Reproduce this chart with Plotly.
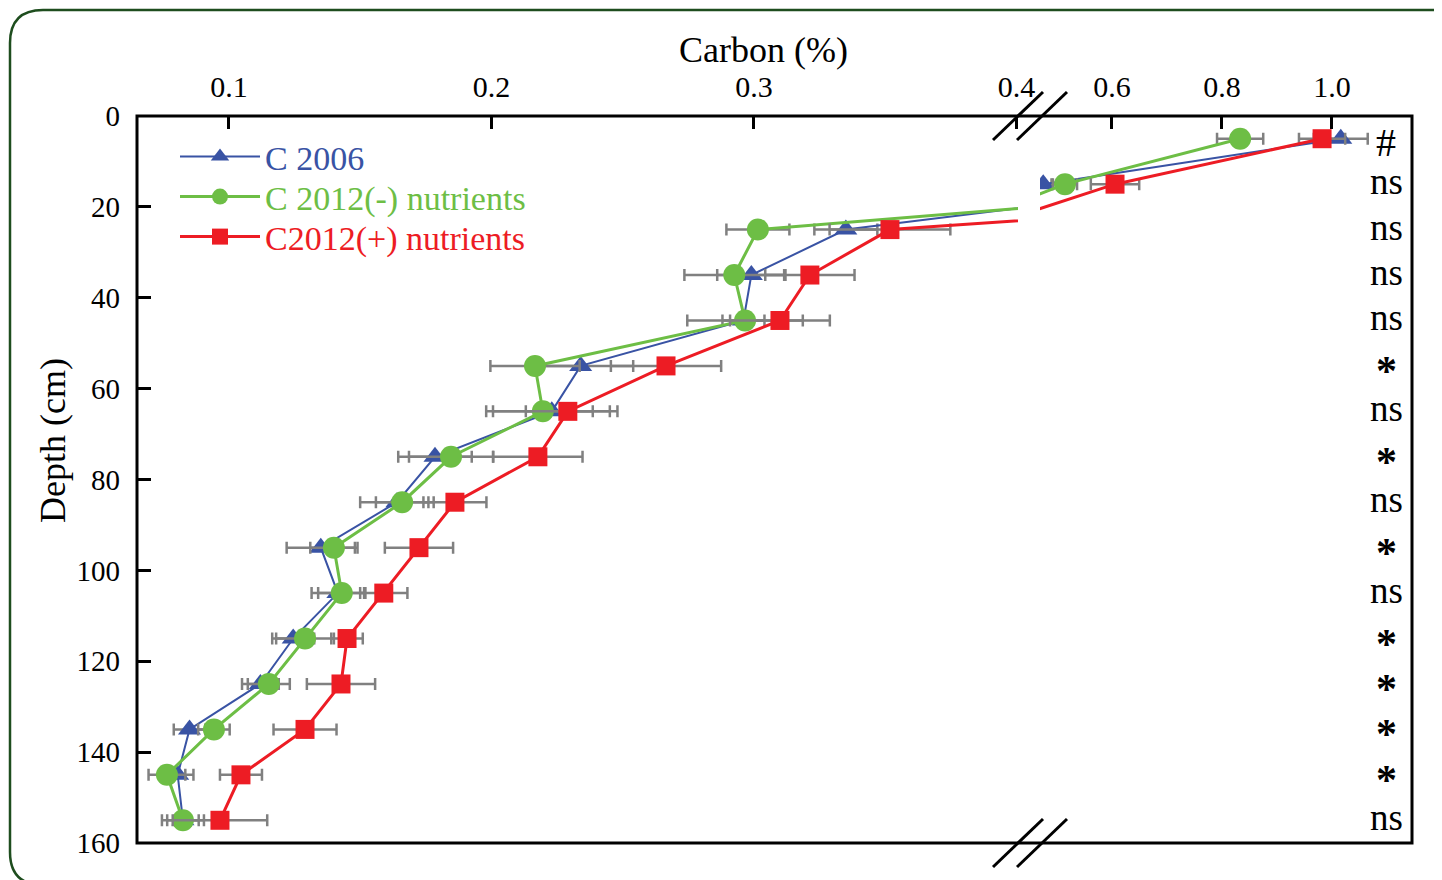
import plotly.graph_objects as go

# ---------------- data ----------------
depth = [5, 15, 25, 35, 45, 55, 65, 75, 85, 95, 105, 115, 125, 135, 145, 155]

c2006 = [1.016, 0.475, 0.335, 0.299, 0.296, 0.234, 0.223, 0.1785, 0.164, 0.135,
         0.1415, 0.1245, 0.112, 0.085, 0.0805, 0.0825]
c2006_err = [0.049, 0.015, 0.012, 0.013, 0.008, 0.020, 0.025, 0.014, 0.014, 0.013,
             0.010, 0.008, 0.007, 0.006, 0.006, 0.008]

c2012_minus = [0.833, 0.5145, 0.3015, 0.2925, 0.2966, 0.2166, 0.2196, 0.1846, 0.166, 0.140,
               0.143, 0.129, 0.1152, 0.0943, 0.0764, 0.0825]
c2012_minus_err = [0.042, 0.022, 0.012, 0.019, 0.022, 0.017, 0.019, 0.016, 0.010, 0.009,
                   0.009, 0.011, 0.008, 0.006, 0.007, 0.006]

c2012_plus = [0.982, 0.6055, 0.3518, 0.3213, 0.3099, 0.2665, 0.2291, 0.2177, 0.1861, 0.1724,
              0.159, 0.145, 0.1427, 0.129, 0.1046, 0.0966]
c2012_plus_err = [0.042, 0.044, 0.023, 0.017, 0.019, 0.021, 0.016, 0.017, 0.012, 0.013,
                  0.009, 0.006, 0.013, 0.012, 0.008, 0.018]

significance = ["#", "ns", "ns", "ns", "ns", "*", "ns", "*", "ns", "*", "ns", "*", "*", "*", "*", "ns"]

left_ticks = [0.1, 0.2, 0.3, 0.4]
right_ticks = [0.6, 0.8, 1.0]
y_ticks = [0, 20, 40, 60, 80, 100, 120, 140, 160]

# ---------------- layout geometry ----------------
# page body has an 8px margin, so the figure is 8px smaller than the window
OFF = 8
W, H = 1442 - OFF, 880 - OFF
X0, X1, Y0, Y1 = 137, 1412, 116, 843          # plot area in window pixels
ML, MT = X0 - OFF, Y0 - OFF
MR, MB = W - (X1 - OFF), H - (Y1 - OFF)
PW, PH = X1 - X0, Y1 - Y0


def px(x):
    return (x - X0) / PW


def py(y):
    return (Y1 - y) / PH


FONT = "Liberation Serif, Times New Roman, serif"
BLUE, GREEN, RED, GRAY = "#3953A4", "#6DBE45", "#ED1C24", "#808080"

series = [
    ("C 2006", c2006, c2006_err, BLUE, "triangle-up", 20, 2, "legend", 157),
    ("C 2012(-) nutrients", c2012_minus, c2012_minus_err, GREEN, "circle", 22, 3, "legend2", 197),
    ("C2012(+) nutrients", c2012_plus, c2012_plus_err, RED, "square", 19, 3, "legend3", 237),
]

fig = go.Figure()
legend_defs = {}
for name, vals, err, col, sym, size, lw, leg, rowy in series:
    for xa, show in (("x", True), ("x2", False)):
        fig.add_trace(go.Scatter(
            x=vals, y=depth, xaxis=xa, yaxis="y",
            mode="lines+markers",
            name=f"<span style='color:{col}'>{name}</span>",
            showlegend=show, legend=leg,
            line=dict(color=col, width=lw),
            marker=dict(symbol=sym, size=size, color=col, line=dict(width=0)),
            error_x=dict(type="data", array=err, visible=True, color=GRAY,
                         thickness=2.5, width=6),
        ))
    legend_defs[leg] = dict(x=px(175), y=py(rowy), xanchor="left", yanchor="middle",
                            bgcolor="rgba(0,0,0,0)", font=dict(family=FONT, size=34),
                            itemwidth=80, borderwidth=0)

axis_common = dict(
    side="top", showgrid=False, zeroline=False, showline=False,
    ticks="inside", ticklen=13, tickwidth=3, tickcolor="black",
    tickfont=dict(family=FONT, size=30, color="black"),
    tickformat=".1f", ticklabelstandoff=12,
)

fig.update_layout(
    width=W, height=H,
    margin=dict(l=ML, r=MR, t=MT, b=MB),
    paper_bgcolor="white", plot_bgcolor="white",
    xaxis=dict(domain=[0, px(1018)], range=[0.065, 0.40057], tickvals=left_ticks,
               anchor="y", **axis_common),
    xaxis2=dict(domain=[px(1040), 1], range=[0.4691, 1.1455], tickvals=right_ticks,
                anchor="y", **axis_common),
    yaxis=dict(range=[160, 0], tickvals=y_ticks, showgrid=False, zeroline=False,
               showline=False, ticks="inside", ticklen=14, tickwidth=3, tickcolor="black",
               tickfont=dict(family=FONT, size=29, color="black"), ticklabelstandoff=16),
    showlegend=True,
    **legend_defs,
)

shapes = []
# plot frame
shapes.append(dict(type="rect", xref="paper", yref="paper", x0=0, y0=0, x1=1, y1=1,
                   line=dict(color="black", width=3)))
# axis break marks (top and bottom)
for ycen in (Y0, Y1):
    for xc in (1018, 1042):
        shapes.append(dict(type="line", xref="paper", yref="paper",
                           x0=px(xc - 25), y0=py(ycen + 24), x1=px(xc + 25), y1=py(ycen - 24),
                           line=dict(color="black", width=3)))
# outer rounded border
r = 33
path = (f"M {px(1470)},{py(885)} L {px(10 + r)},{py(885)} "
        f"Q {px(10)},{py(885)} {px(10)},{py(885 - r)} "
        f"L {px(10)},{py(10 + r)} Q {px(10)},{py(10)} {px(10 + r)},{py(10)} "
        f"L {px(1470)},{py(10)}")
shapes.append(dict(type="path", xref="paper", yref="paper", path=path,
                   line=dict(color="#1E4D1E", width=2.5)))
fig.update_layout(shapes=shapes)

annotations = [
    dict(text="Carbon (%)", xref="paper", yref="paper", x=px(763), y=py(50),
         xanchor="center", yanchor="middle",
         showarrow=False, font=dict(family=FONT, size=36, color="black")),
    dict(text="Depth (cm)", xref="paper", yref="paper", x=px(53), y=py(441),
         xanchor="center", yanchor="middle",
         textangle=-90, showarrow=False, font=dict(family=FONT, size=36, color="black")),
]
for d, s in zip(depth, significance):
    if s == "*":
        annotations.append(dict(text="<b>*</b>", xref="paper", yref="y", x=px(1386), y=d,
                                xanchor="center", yanchor="middle", height=34,
                                showarrow=False, yshift=-5,
                                font=dict(family=FONT, size=42, color="black")))
    elif s == "#":
        annotations.append(dict(text="#", xref="paper", yref="y", x=px(1386), y=d,
                                xanchor="center", yanchor="middle", height=34,
                                showarrow=False, yshift=-3,
                                font=dict(family=FONT, size=40, color="black")))
    else:
        annotations.append(dict(text=s, xref="paper", yref="y", x=px(1386), y=d,
                                xanchor="center", yanchor="middle", height=34,
                                showarrow=False, yshift=3,
                                font=dict(family=FONT, size=37, color="black")))
fig.update_layout(annotations=annotations)

fig.write_html("out.html")
